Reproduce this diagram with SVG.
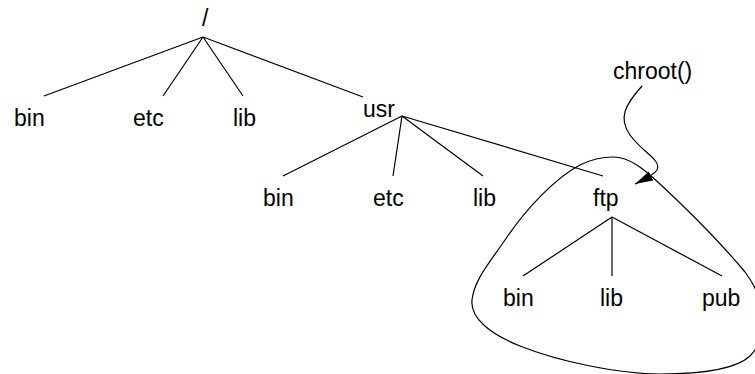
<svg xmlns="http://www.w3.org/2000/svg" width="755" height="374" viewBox="0 0 755 374">
  <style>
    text { font-family: "Liberation Sans", Arial, sans-serif; font-size: 23px; fill: #000; }
    .edge { stroke: #000; stroke-width: 1.2; fill: none; }
  </style>
  <defs>
    <marker id="arrow" markerUnits="userSpaceOnUse" markerWidth="20" markerHeight="12" refX="18" refY="6" orient="auto">
      <path d="M0,1 L18,6 L0,11 Z" fill="#000"/>
    </marker>
  </defs>
  <rect width="755" height="374" fill="#fff"/>

  <!-- tree edges and annotations -->
  <g id="connectors">
    <!-- root -->
    <path class="edge" d="M203,37 L44,96 M203,37 L163,96 M203,37 L243,96 M203,37 L363,97"/>
    <!-- usr -->
    <path class="edge" d="M402,116 L283,176 M402,116 L393,176 M402,116 L483,176 M402,116 L603,176"/>
    <!-- ftp -->
    <path class="edge" d="M612,217 L523,276 M612,217 L612,276 M612,217 L722,276"/>
    <!-- chroot jail outline -->
    <path class="edge" d="M613,157 C630,157 645,170 660,184 C690,212 725,248 745,272 C765,298 770,335 750,356 C735,370 700,374 660,374 C620,374 560,362 520,346 C490,334 470,318 472,300 C474,280 490,262 505,240 C525,210 555,178 580,165 C592,159 603,157 613,157 Z"/>
    <!-- chroot() pointer -->
    <path class="edge" d="M642,86 C625,105 618,118 630,135 C642,152 662,160 657,170 C654,175 645,179 635,184" marker-end="url(#arrow)"/>
  </g>

  <g id="root"><text x="202" y="26">/</text></g>
  <g id="bin"><text x="14" y="126">bin</text></g>
  <g id="etc"><text x="133" y="126">etc</text></g>
  <g id="lib"><text x="233" y="126">lib</text></g>
  <g id="usr"><text x="363" y="117">usr</text></g>

  <g id="usr-bin"><text x="263" y="206">bin</text></g>
  <g id="usr-etc"><text x="373" y="206">etc</text></g>
  <g id="usr-lib"><text x="473" y="206">lib</text></g>
  <g id="ftp"><text x="593" y="206">ftp</text></g>

  <g id="ftp-bin"><text x="503" y="306">bin</text></g>
  <g id="ftp-lib"><text x="600" y="306">lib</text></g>
  <g id="ftp-pub"><text x="702" y="306">pub</text></g>

  <g id="chroot"><text x="613" y="79">chroot()</text></g>
</svg>
